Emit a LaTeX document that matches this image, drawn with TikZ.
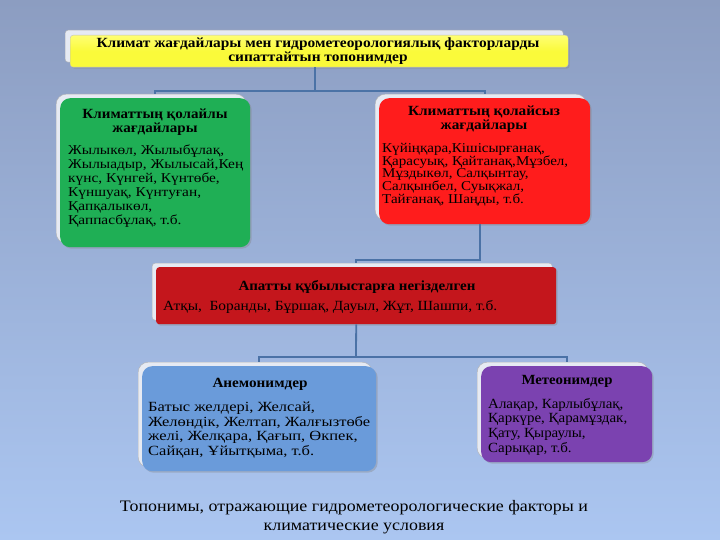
\documentclass[tikz,border=0pt]{standalone}
\usepackage{fontspec}
\usepackage{graphicx}
\setmainfont{Liberation Serif}
\usetikzlibrary{shadows}
\definecolor{bgtop}{HTML}{8C9DC1}
\definecolor{bgbot}{HTML}{ABC6F1}
\definecolor{cyel}{HTML}{FAFA3A}
\definecolor{cgreen}{HTML}{1FAF55}
\definecolor{cred}{HTML}{FF1C1C}
\definecolor{cdred}{HTML}{C4161C}
\definecolor{cblue}{HTML}{6A9BDA}
\definecolor{cpurple}{HTML}{7B42B0}
\definecolor{cline}{HTML}{4B72A6}
\definecolor{cframe}{HTML}{E6EAF3}
% block of lines fitted to a given width, natural height
\newcommand\lblock[2]{\resizebox{#1}{\height}{\vbox{\lineskiplimit=-20pt\lineskip=0pt\halign{##\hfil\cr#2}}}}
\newcommand\cblock[2]{\resizebox{#1}{\height}{\vbox{\lineskiplimit=-20pt\lineskip=0pt\halign{\hfil##\hfil\cr#2}}}}
\tikzset{
  box/.style={rectangle, rounded corners=10pt, inner sep=0pt, anchor=north west,
    drop shadow={opacity=0.35, shadow xshift=1.5pt, shadow yshift=-1.5pt}},
  frame/.style={rectangle, rounded corners=10pt, inner sep=0pt, anchor=north west,
    fill=cframe, draw=gray!60, line width=0.4pt},
  conn/.style={draw=cline, line width=1.8pt},
  txt/.style={inner sep=0pt, anchor=north west},
  head/.style={inner sep=0pt, anchor=north},
}
\begin{document}
\begin{tikzpicture}[x=1pt,y=-1pt]
\shade[top color=bgtop, bottom color=bgbot] (0,0) rectangle (720,540);
\useasboundingbox (0,0) rectangle (720,540);

% title
\node[frame, rounded corners=3pt, minimum width=498pt, minimum height=32pt] (titlef) at (65,30) {};
\node[box, rounded corners=3pt, top color=yellow!55!white, bottom color=cyel, middle color=cyel,
  draw=gray!50, minimum width=498pt, minimum height=32pt] (title) at (70,35) {};
\node[head, font=\bfseries\fontsize{14}{14}\selectfont] (titlet) at (318,38)
  {\cblock{443pt}{Климат жағдайлары мен гидрометеорологиялық факторларды\cr сипаттайтын топонимдер\cr}};

% green
\node[frame, minimum width=190pt, minimum height=149pt] (greenf) at (56,94) {};
\node[box, fill=cgreen, minimum width=190pt, minimum height=149pt] (green) at (60,98) {};
\node[head, font=\bfseries\fontsize{14}{14}\selectfont] (greenh) at (155,109)
  {\cblock{145pt}{Климаттың қолайлы\cr жағдайлары\cr}};
\node[txt, font=\fontsize{13.5}{14}\selectfont] (greenb) at (68,145)
  {\lblock{175pt}{Жылыкөл, Жылыбұлақ,\cr Жылыадыр, Жылысай,Кең\cr күнс, Күнгей, Күнтөбе,\cr Күншуақ, Күнтуған,\cr Қапқалыкөл,\cr Қаппасбұлақ, т.б.\cr}};

% red
\node[frame, minimum width=211pt, minimum height=126pt] (redf) at (375,94) {};
\node[box, fill=cred, minimum width=211pt, minimum height=126pt] (red) at (379,98) {};
\node[head, font=\bfseries\fontsize{14}{14}\selectfont] (redh) at (484,106)
  {\cblock{152pt}{Климаттың қолайсыз\cr жағдайлары\cr}};
\node[txt, font=\fontsize{13.5}{12.7}\selectfont] (redb) at (382,143)
  {\lblock{186pt}{Күйіңқара,Кішісырғанақ,\cr Қарасуық, Қайтанақ,Мұзбел,\cr Мұздыкөл, Салқынтау,\cr Салқынбел, Суықжал,\cr Тайғанақ, Шаңды, т.б.\cr}};

% dark red
\node[frame, rounded corners=3pt, minimum width=400pt, minimum height=57pt] (dredf) at (152,263) {};
\node[box, rounded corners=3pt, fill=cdred, minimum width=400pt, minimum height=57pt] (dred) at (156,267) {};
\node[head, font=\bfseries\fontsize{14}{14}\selectfont] (dredh) at (357,280)
  {\cblock{237pt}{Апатты құбылыстарға негізделген\cr}};
\node[txt, font=\fontsize{14}{14}\selectfont] (dredb) at (163,300)
  {\lblock{334pt}{Атқы,\ \ Боранды, Бұршақ, Дауыл, Жұт, Шашпи, т.б.\cr}};

% blue
\node[frame, minimum width=234pt, minimum height=105pt] (bluef) at (138,362) {};
\node[box, fill=cblue, minimum width=234pt, minimum height=105pt] (blue) at (142,366) {};
\node[head, font=\bfseries\fontsize{14}{14}\selectfont] (blueh) at (260,378)
  {\cblock{95pt}{Анемонимдер\cr}};
\node[txt, font=\fontsize{14}{14.6}\selectfont] (blueb) at (148,402)
  {\lblock{222pt}{Батыс желдері, Желсай,\cr Желөндік, Желтап, Жалғызтөбе\cr желі, Желқара, Қағып, Өкпек,\cr Сайқан, Ұйытқыма, т.б.\cr}};

% purple
\node[frame, minimum width=171pt, minimum height=96pt] (purplef) at (477,362) {};
\node[box, fill=cpurple, minimum width=171pt, minimum height=96pt] (purple) at (481,366) {};
\node[head, font=\bfseries\fontsize{14}{14}\selectfont] (purpleh) at (567,375)
  {\cblock{91pt}{Метеонимдер\cr}};
\node[txt, font=\fontsize{14}{14.6}\selectfont] (purpleb) at (488,398)
  {\lblock{139pt}{Алақар, Карлыбұлақ,\cr Қаркүре, Қарамұздак,\cr Қату, Қыраулы,\cr Сарықар, т.б.\cr}};

% connectors
\coordinate (j1) at (315,91);
\draw[conn] (title.south -| j1) -- (j1);
\draw[conn] (j1) -| (greenf.north -| green.north);
\draw[conn] (j1) -| (redf.north -| red.north);
\coordinate (j2) at (480,260);
\draw[conn] (red.south -| j2) -- (j2) -| (dredf.north -| dred.north);
\coordinate (j3) at (356,357);
\draw[conn] (dred.south) -- (j3);
\draw[conn] (j3) -| (bluef.north -| blue.north);
\draw[conn] (j3) -| (purplef.north -| purple.north);

% caption
\node[head, font=\fontsize{16}{19}\selectfont] (cap) at (354,500)
  {\cblock{468pt}{Топонимы, отражающие гидрометеорологические факторы и\cr климатические условия\cr}};
\end{tikzpicture}
\end{document}
